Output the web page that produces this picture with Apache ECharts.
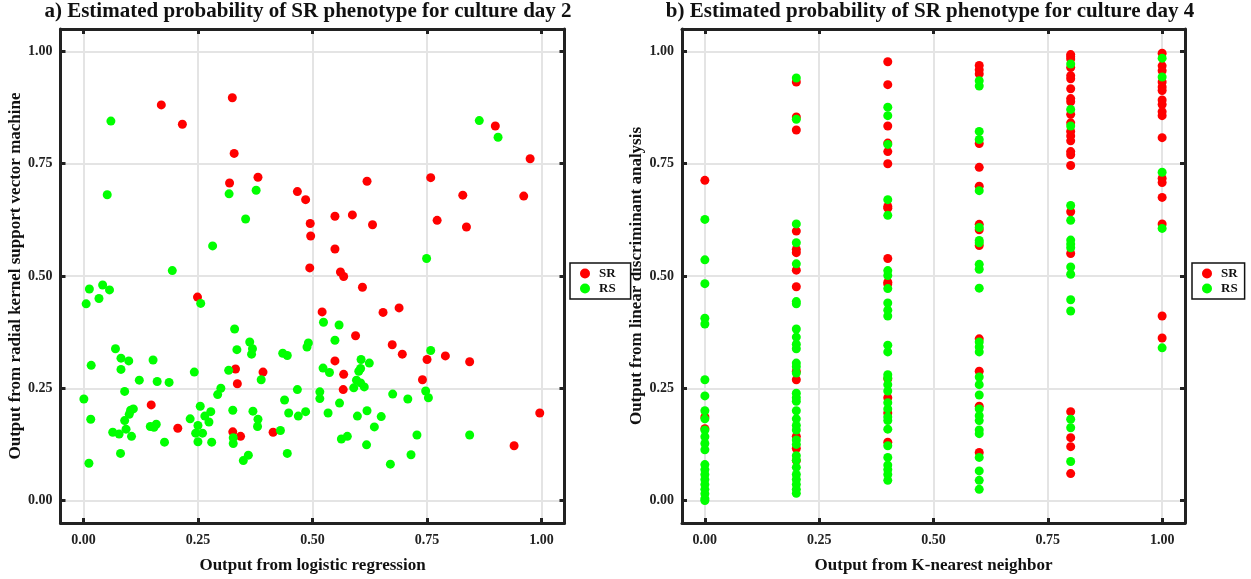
<!DOCTYPE html>
<html>
<head>
<meta charset="utf-8">
<script src="https://cdn.jsdelivr.net/npm/echarts@6/dist/echarts.min.js"></script>
<style>
html,body{margin:0;padding:0;background:#fff;}
#chart{width:1251px;height:579px;}
</style>
</head>
<body>
<div id="chart"></div>
<script>
// ---------- data ----------
const tickValues = [0, 0.25, 0.5, 0.75, 1];

const titleA = 'a) Estimated probability of SR phenotype for culture day 2';
const titleB = 'b) Estimated probability of SR phenotype for culture day 4';
const xNameA = 'Output from logistic regression';
const yNameA = 'Output from radial kernel support vector machine';
const xNameB = 'Output from K-nearest neighbor';
const yNameB = 'Output from linear discriminant analysis';
const seriesNames = ['SR', 'RS'];

const leftSR = [[0.170,0.881],[0.216,0.838],[0.325,0.897],[0.329,0.773],[0.319,0.707],[0.381,0.720],[0.467,0.688],[0.485,0.670],[0.899,0.834],[0.975,0.761],[0.619,0.711],[0.758,0.719],[0.828,0.680],[0.961,0.678],[0.549,0.633],[0.587,0.636],[0.631,0.614],[0.495,0.617],[0.772,0.624],[0.836,0.609],[0.496,0.589],[0.549,0.560],[0.494,0.518],[0.561,0.509],[0.568,0.499],[0.609,0.475],[0.521,0.420],[0.654,0.419],[0.689,0.429],[0.594,0.367],[0.674,0.347],[0.696,0.326],[0.790,0.322],[0.750,0.314],[0.843,0.309],[0.549,0.311],[0.568,0.281],[0.740,0.269],[0.567,0.247],[0.996,0.195],[0.940,0.122],[0.249,0.453],[0.332,0.293],[0.392,0.286],[0.336,0.260],[0.148,0.213],[0.206,0.161],[0.326,0.153],[0.343,0.143],[0.414,0.152]];

const leftRS = [[0.060,0.845],[0.318,0.683],[0.377,0.691],[0.052,0.681],[0.354,0.627],[0.282,0.567],[0.194,0.512],[0.864,0.846],[0.905,0.809],[0.749,0.539],[0.524,0.397],[0.558,0.391],[0.549,0.357],[0.491,0.351],[0.488,0.342],[0.758,0.334],[0.606,0.314],[0.624,0.306],[0.523,0.295],[0.537,0.285],[0.605,0.294],[0.601,0.288],[0.596,0.268],[0.605,0.262],[0.590,0.251],[0.613,0.253],[0.467,0.247],[0.516,0.242],[0.516,0.227],[0.675,0.237],[0.708,0.226],[0.747,0.244],[0.753,0.229],[0.559,0.217],[0.485,0.198],[0.469,0.188],[0.534,0.195],[0.598,0.188],[0.619,0.200],[0.650,0.187],[0.635,0.164],[0.563,0.137],[0.576,0.143],[0.618,0.124],[0.728,0.146],[0.843,0.146],[0.715,0.102],[0.670,0.081],[0.013,0.471],[0.042,0.480],[0.057,0.469],[0.034,0.450],[0.006,0.438],[0.256,0.439],[0.330,0.382],[0.363,0.353],[0.335,0.336],[0.369,0.338],[0.367,0.326],[0.070,0.338],[0.082,0.317],[0.099,0.311],[0.152,0.313],[0.017,0.301],[0.082,0.292],[0.242,0.286],[0.317,0.290],[0.122,0.268],[0.161,0.265],[0.187,0.263],[0.388,0.269],[0.090,0.243],[0.300,0.250],[0.293,0.236],[0.001,0.226],[0.439,0.224],[0.255,0.210],[0.109,0.204],[0.103,0.201],[0.100,0.192],[0.278,0.198],[0.265,0.188],[0.326,0.201],[0.370,0.199],[0.381,0.181],[0.448,0.195],[0.016,0.181],[0.090,0.178],[0.274,0.175],[0.233,0.182],[0.146,0.165],[0.154,0.163],[0.159,0.170],[0.064,0.152],[0.078,0.148],[0.093,0.159],[0.105,0.143],[0.250,0.167],[0.245,0.150],[0.260,0.150],[0.250,0.131],[0.280,0.130],[0.177,0.130],[0.327,0.140],[0.327,0.127],[0.349,0.089],[0.360,0.101],[0.380,0.165],[0.445,0.105],[0.430,0.156],[0.081,0.105],[0.012,0.083],[0.435,0.328],[0.445,0.323]];

const rightSR = [
  [0,0.713],[0,0.186],[0,0.160],
  [0.2,0.932],[0.2,0.854],[0.2,0.825],[0.2,0.600],[0.2,0.559],[0.2,0.552],[0.2,0.513],[0.2,0.476],[0.2,0.288],[0.2,0.269],[0.2,0.143],[0.2,0.116],[0.2,0.089],
  [0.4,0.977],[0.4,0.926],[0.4,0.834],[0.4,0.796],[0.4,0.777],[0.4,0.750],[0.4,0.655],[0.4,0.651],[0.4,0.539],[0.4,0.486],[0.4,0.482],[0.4,0.271],[0.4,0.229],[0.4,0.195],[0.4,0.130],
  [0.6,0.969],[0.6,0.959],[0.6,0.950],[0.6,0.795],[0.6,0.742],[0.6,0.700],[0.6,0.615],[0.6,0.603],[0.6,0.568],[0.6,0.360],[0.6,0.288],[0.6,0.210],[0.6,0.107],
  [0.8,0.993],[0.8,0.988],[0.8,0.983],[0.8,0.964],[0.8,0.946],[0.8,0.939],[0.8,0.917],[0.8,0.895],[0.8,0.888],[0.8,0.860],[0.8,0.841],[0.8,0.822],[0.8,0.812],[0.8,0.801],[0.8,0.777],[0.8,0.770],[0.8,0.746],[0.8,0.643],[0.8,0.550],[0.8,0.198],[0.8,0.140],[0.8,0.120],[0.8,0.060],
  [1,0.996],[1,0.968],[1,0.957],[1,0.932],[1,0.921],[1,0.913],[1,0.892],[1,0.882],[1,0.866],[1,0.857],[1,0.808],[1,0.717],[1,0.708],[1,0.675],[1,0.616],[1,0.411],[1,0.362]
];

const rightRS = [
  [0,0.626],[0,0.536],[0,0.483],[0,0.406],[0,0.393],[0,0.269],[0,0.233],[0,0.200],[0,0.182],[0,0.157],[0,0.142],[0,0.127],[0,0.113],[0,0.080],[0,0.069],[0,0.058],[0,0.047],[0,0.036],[0,0.025],[0,0.015],[0,0.004],[0,0.000],
  [0.2,0.941],[0.2,0.849],[0.2,0.616],[0.2,0.574],[0.2,0.527],[0.2,0.443],[0.2,0.438],[0.2,0.382],[0.2,0.364],[0.2,0.348],[0.2,0.338],[0.2,0.306],[0.2,0.298],[0.2,0.284],[0.2,0.239],[0.2,0.229],[0.2,0.221],[0.2,0.200],[0.2,0.182],[0.2,0.167],[0.2,0.157],[0.2,0.135],[0.2,0.125],[0.2,0.100],[0.2,0.090],[0.2,0.074],[0.2,0.058],[0.2,0.047],[0.2,0.036],[0.2,0.025],[0.2,0.016],
  [0.4,0.876],[0.4,0.857],[0.4,0.793],[0.4,0.670],[0.4,0.635],[0.4,0.512],[0.4,0.501],[0.4,0.472],[0.4,0.440],[0.4,0.424],[0.4,0.411],[0.4,0.346],[0.4,0.331],[0.4,0.280],[0.4,0.273],[0.4,0.258],[0.4,0.244],[0.4,0.218],[0.4,0.204],[0.4,0.186],[0.4,0.178],[0.4,0.159],[0.4,0.122],[0.4,0.096],[0.4,0.079],[0.4,0.069],[0.4,0.058],[0.4,0.045],
  [0.6,0.935],[0.6,0.923],[0.6,0.822],[0.6,0.804],[0.6,0.690],[0.6,0.608],[0.6,0.579],[0.6,0.574],[0.6,0.526],[0.6,0.515],[0.6,0.473],[0.6,0.353],[0.6,0.342],[0.6,0.331],[0.6,0.275],[0.6,0.258],[0.6,0.235],[0.6,0.204],[0.6,0.189],[0.6,0.178],[0.6,0.157],[0.6,0.149],[0.6,0.096],[0.6,0.066],[0.6,0.045],[0.6,0.025],
  [0.8,0.972],[0.8,0.871],[0.8,0.834],[0.8,0.657],[0.8,0.624],[0.8,0.580],[0.8,0.571],[0.8,0.563],[0.8,0.520],[0.8,0.504],[0.8,0.447],[0.8,0.422],[0.8,0.181],[0.8,0.162],[0.8,0.087],
  [1,0.985],[1,0.943],[1,0.731],[1,0.606],[1,0.340]
];

// ---------- chart ----------
const FONT = '"Liberation Serif", "Times New Roman", serif';
const RED = '#ff0000';
const GREEN = '#00ff00';
const chart = echarts.init(document.getElementById('chart'), null, {renderer: 'canvas'});

const grids = [
  {left: 60.5, top: 29, width: 504, height: 505},
  {left: 682, top: 29, width: 503, height: 505}
];

function mkX(gi, pos, name, show) {
  return {
    type: 'value', gridIndex: gi, position: pos, min: -0.05, max: 1.05,
    name: show ? name : '', nameLocation: 'middle', nameGap: 34,
    nameTextStyle: {fontFamily: FONT, fontWeight: 'bold', fontSize: 17, color: '#111'},
    axisLine: {show: true, onZero: false, lineStyle: {color: '#222', width: 3}},
    axisTick: {show: true, inside: true, length: 5, customValues: tickValues, lineStyle: {color: '#222', width: 3}},
    axisLabel: {show: show, customValues: tickValues, margin: 10, formatter: v => v.toFixed(2),
      fontFamily: FONT, fontWeight: 'bold', fontSize: 14, color: '#222'},
    splitLine: {show: show, lineStyle: {color: '#e4e4e4', width: 2}}
  };
}
function mkY(gi, pos, name, show) {
  return {
    type: 'value', gridIndex: gi, position: pos, min: -0.05, max: 1.05,
    name: show ? name : '', nameLocation: 'middle', nameGap: 31, nameRotate: 90,
    nameTextStyle: {fontFamily: FONT, fontWeight: 'bold', fontSize: 17, color: '#111'},
    axisLine: {show: true, onZero: false, lineStyle: {color: '#222', width: 3}},
    axisTick: {show: true, inside: true, length: 5, customValues: tickValues, lineStyle: {color: '#222', width: 3}},
    axisLabel: {show: show, customValues: tickValues, margin: 8, formatter: v => v.toFixed(2),
      fontFamily: FONT, fontWeight: 'bold', fontSize: 14, color: '#222'},
    splitLine: {show: show, lineStyle: {color: '#e4e4e4', width: 2}}
  };
}

function scatter(name, data, color, xi, yi) {
  return {
    type: 'scatter', name: name, data: data, xAxisIndex: xi, yAxisIndex: yi,
    symbol: 'circle', symbolSize: 9, itemStyle: {color: color, opacity: 1},
    emphasis: {disabled: true}, clip: false
  };
}

function legendAt(left, top, padRight) {
  return {
    orient: 'vertical', left: left, top: top, data: seriesNames,
    icon: 'circle', itemWidth: 18, itemHeight: 10, itemGap: 2,
    padding: [4, padRight, 4, 10], borderColor: '#111', borderWidth: 1.5, backgroundColor: '#fff',
    textStyle: {fontFamily: FONT, fontWeight: 'bold', fontSize: 13, color: '#111'},
    selectedMode: false
  };
}

const option = {
  animation: false,
  backgroundColor: '#fff',
  title: [
    {text: titleA, left: 308, top: 1, padding: 0, textAlign: 'center',
      textStyle: {fontFamily: FONT, fontWeight: 'bold', fontSize: 21, color: '#111'}},
    {text: titleB, left: 930, top: 1, padding: 0, textAlign: 'center',
      textStyle: {fontFamily: FONT, fontWeight: 'bold', fontSize: 21, color: '#111'}}
  ],
  legend: [legendAt(570, 263, 15), legendAt(1192, 263, 7)],
  grid: grids,
  xAxis: [mkX(0, 'bottom', xNameA, true), mkX(0, 'top', '', false),
          mkX(1, 'bottom', xNameB, true), mkX(1, 'top', '', false)],
  yAxis: [mkY(0, 'left', yNameA, true), mkY(0, 'right', '', false),
          mkY(1, 'left', yNameB, true), mkY(1, 'right', '', false)],
  series: [
    scatter('SR', leftSR, RED, 0, 0),
    scatter('RS', leftRS, GREEN, 0, 0),
    scatter('SR', rightSR, RED, 2, 2),
    scatter('RS', rightRS, GREEN, 2, 2)
  ]
};
chart.setOption(option);
</script>
</body>
</html>
